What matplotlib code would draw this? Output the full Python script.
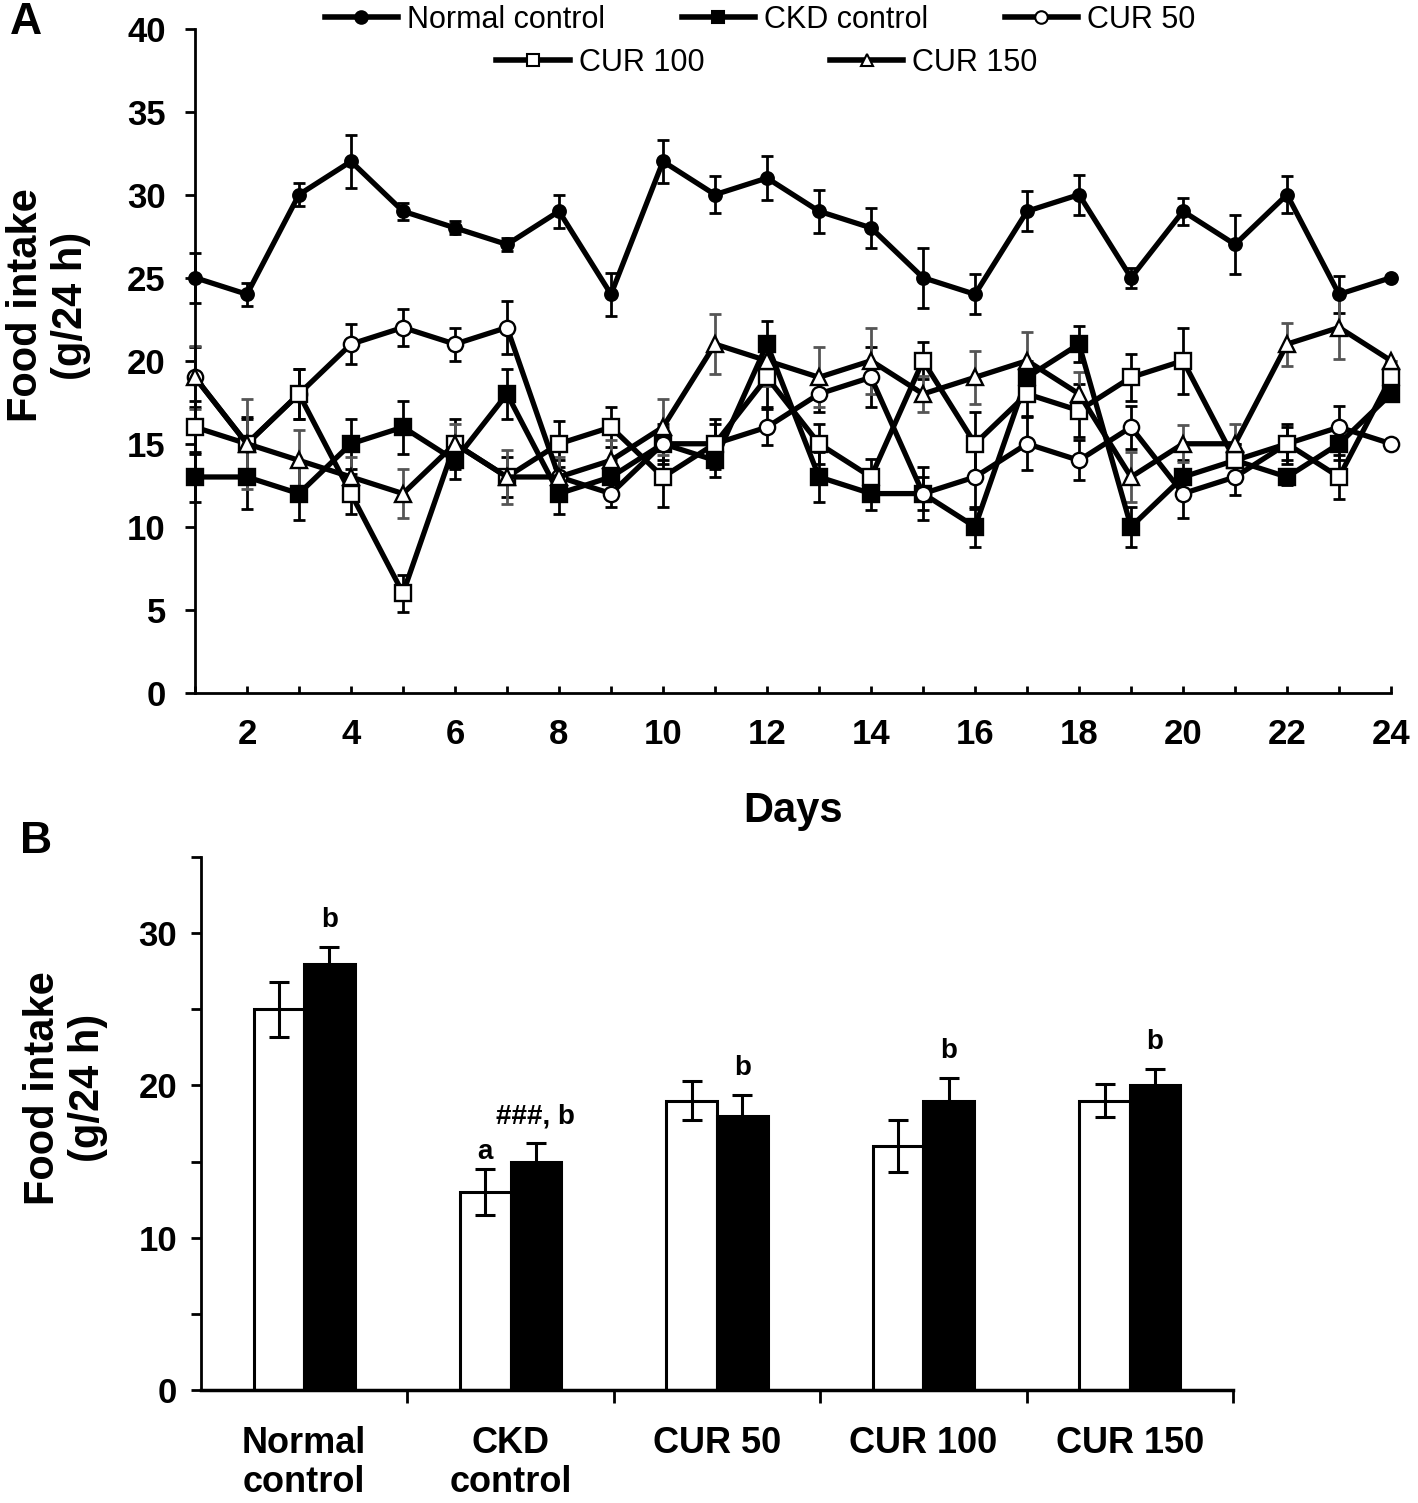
import matplotlib
matplotlib.use("Agg")
import matplotlib.pyplot as plt
from matplotlib.lines import Line2D

plt.rcParams['font.family'] = ['Liberation Sans', 'DejaVu Sans']

# ---- panel A data (daily food intake) ----
days = list(range(1, 25))
normal = [25, 24, 30, 32, 29, 28, 27, 29, 24, 32, 30, 31, 29, 28, 25, 24, 29, 30, 25, 29, 27, 30, 24, 25]
normal_err = [1.5, 0.7, 0.7, 1.6, 0.5, 0.4, 0.4, 1.0, 1.3, 1.3, 1.1, 1.3, 1.3, 1.2, 1.8, 1.2, 1.2, 1.2, 0.6, 0.8, 1.8, 1.1, 1.1, 0]
ckd = [13, 13, 12, 15, 16, 14, 18, 12, 13, 15, 14, 21, 13, 12, 12, 10, 19, 21, 10, 13, 14, 13, 15, 18]
ckd_err = [1.5, 1.9, 1.6, 1.5, 1.6, 1.1, 1.5, 1.2, 1.0, 1.2, 1.0, 1.4, 1.5, 1.0, 1.0, 1.2, 1.0, 1.1, 1.2, 1.0, 1.0, 0.5, 1.0, 0]
cur50 = [19, 15, 18, 21, 22, 21, 22, 13, 12, 15, 15, 16, 18, 19, 12, 13, 15, 14, 16, 12, 13, 15, 16, 15]
cur50_err = [1.8, 1.5, 1.5, 1.2, 1.1, 1.0, 1.6, 1.0, 0.8, 1.0, 1.2, 1.1, 1.1, 1.8, 1.6, 1.9, 1.6, 1.2, 1.3, 1.5, 1.1, 1.2, 1.3, 0]
cur100 = [16, 15, 18, 12, 6, 15, 13, 15, 16, 13, 15, 19, 15, 13, 20, 15, 18, 17, 19, 20, 14, 15, 13, 19]
cur100_err = [1.6, 1.6, 1.5, 1.2, 1.1, 1.5, 1.2, 1.4, 1.2, 1.8, 1.5, 1.8, 1.2, 1.1, 1.1, 1.9, 1.3, 1.6, 1.4, 2.0, 1.0, 1.0, 1.3, 0]
cur150 = [19, 15, 14, 13, 12, 15, 13, 13, 14, 16, 21, 20, 19, 20, 18, 19, 20, 18, 13, 15, 15, 21, 22, 20]
cur150_err = [1.9, 2.7, 1.8, 1.2, 1.5, 1.2, 1.6, 1.2, 1.2, 1.7, 1.8, 1.5, 1.8, 2.0, 1.1, 1.6, 1.7, 1.3, 1.5, 1.1, 1.2, 1.3, 1.9, 0]

# ---- panel B data (mean food intake per group) ----
groups = ["Normal\ncontrol", "CKD\ncontrol", "CUR 50", "CUR 100", "CUR 150"]
open_vals = [25, 13, 19, 16, 19]
open_err = [1.8, 1.5, 1.3, 1.7, 1.1]
filled_vals = [28, 15, 18, 19, 20]
filled_err = [1.1, 1.2, 1.4, 1.5, 1.1]
open_marks = ["", "a", "", "", ""]
filled_marks = ["b", "###, b", "b", "b", "b"]

fig = plt.figure(figsize=(14.18, 15.03), dpi=100)

# ================= panel A =================
axA = fig.add_axes([0.1375, 0.539, 0.8435, 0.442])

series = [
    ("Normal control", normal, normal_err, 'o', 'black', 9, 'black'),
    ("CKD control", ckd, ckd_err, 's', 'black', 12, 'black'),
    ("CUR 50", cur50, cur50_err, 'o', 'white', 11, 'black'),
    ("CUR 100", cur100, cur100_err, 's', 'white', 12, 'black'),
    ("CUR 150", cur150, cur150_err, '^', 'white', 12, '#555555'),
]

for name, vals, errs, mk, fc, ms, ecol in series:
    axA.errorbar(days, vals, yerr=errs, fmt='none', ecolor=ecol, elinewidth=2,
                 capsize=4, capthick=2, zorder=2, clip_on=False)
for name, vals, errs, mk, fc, ms, ecol in series:
    axA.plot(days, vals, '-', color='black', lw=3.8, marker=mk, ms=ms,
             mfc=fc, mec='black', mew=1.7, zorder=3, clip_on=False)

axA.set_xlim(1, 24)
axA.set_ylim(0, 40)
axA.set_yticks(range(0, 41, 5))
axA.set_xticks(days)
axA.set_xticklabels([str(d) if d % 2 == 0 else "" for d in days])
axA.spines['top'].set_visible(False)
axA.spines['right'].set_visible(False)
axA.spines['left'].set_linewidth(2)
axA.spines['bottom'].set_linewidth(2)
axA.tick_params(axis='y', direction='out', length=7, width=2, labelsize=25, pad=14)
axA.tick_params(axis='x', direction='in', length=5, width=2, labelsize=25, pad=18)
for lab in axA.get_xticklabels() + axA.get_yticklabels():
    lab.set_fontweight('bold')
axA.set_ylabel("Food intake\n(g/24 h)", fontsize=30, fontweight='bold', linespacing=1.15)
axA.yaxis.set_label_coords(-0.087, 0.583)
axA.set_xlabel("Days", fontsize=30, fontweight='bold', labelpad=29)

# legend in two rows
def handle(mk, fc):
    return Line2D([], [], color='black', lw=4, marker=mk, ms=9, mfc=fc, mec='black', mew=1.5)

h = [handle(s[3], s[4]) for s in series]
leg1 = fig.legend(h[:3], [s[0] for s in series[:3]], loc='center', bbox_to_anchor=(0.536, 0.987),
                  ncol=3, frameon=False, fontsize=22, handlelength=2.4, columnspacing=2.5,
                  handletextpad=0.3, borderaxespad=0)
leg2 = fig.legend(h[3:], [s[0] for s in series[3:]], loc='center', bbox_to_anchor=(0.541, 0.958),
                  ncol=2, frameon=False, fontsize=22, handlelength=2.4, columnspacing=4.1,
                  handletextpad=0.3, borderaxespad=0)

fig.text(0.007, 0.985, "A", fontsize=32, fontweight='bold', va='center', ha='left')
fig.text(0.014, 0.44, "B", fontsize=32, fontweight='bold', va='center', ha='left')

# ================= panel B =================
axB = fig.add_axes([0.1417, 0.0752, 0.7279, 0.3546])
xs = list(range(len(groups)))
w = 0.245
xo = [x - w / 2 for x in xs]
xf = [x + w / 2 for x in xs]
axB.bar(xo, open_vals, width=w, color='white', edgecolor='black', linewidth=2.2, zorder=2)
axB.bar(xf, filled_vals, width=w, color='black', edgecolor='black', linewidth=2.2, zorder=2)
axB.errorbar(xo, open_vals, yerr=open_err, fmt='none', ecolor='black', elinewidth=2.2,
             capsize=7, capthick=2.2, zorder=3)
axB.errorbar(xf, filled_vals, yerr=filled_err, fmt='none', ecolor='black', elinewidth=2.2,
             capsize=7, capthick=2.2, zorder=3)

for x, v, e, t in zip(xo, open_vals, open_err, open_marks):
    if t:
        axB.text(x, v + e + 0.3, t, ha='center', va='bottom', fontsize=20, fontweight='bold')
for x, v, e, t in zip(xf, filled_vals, filled_err, filled_marks):
    axB.text(x, v + e + 0.9, t, ha='center', va='bottom', fontsize=20, fontweight='bold')

axB.set_xlim(-0.5, 4.5)
axB.set_ylim(0, 35)
axB.set_yticks(range(0, 36, 5))
axB.set_yticklabels([str(v) if v % 10 == 0 and v <= 30 else "" for v in range(0, 36, 5)])
axB.set_xticks([x + 0.5 for x in xs])
axB.set_xticklabels([])
axB.set_xticks(xs, minor=True)
axB.set_xticklabels(groups, minor=True)
axB.tick_params(axis='x', which='major', direction='out', length=9, width=2)
axB.tick_params(axis='x', which='minor', length=0, labelsize=26, pad=26)
axB.tick_params(axis='y', direction='out', length=7, width=2, labelsize=25, pad=10)
for lab in axB.get_xticklabels(minor=True) + axB.get_yticklabels():
    lab.set_fontweight('bold')
    lab.set_linespacing(1.15)
for lab in axB.get_xticklabels(minor=True):
    lab.set_verticalalignment('top')
axB.spines['top'].set_visible(False)
axB.spines['right'].set_visible(False)
axB.spines['left'].set_linewidth(2)
axB.spines['bottom'].set_linewidth(2.5)
axB.set_ylabel("Food intake\n(g/24 h)", fontsize=30, fontweight='bold', linespacing=1.15)
axB.yaxis.set_label_coords(-0.09, 0.567)

fig.savefig("out.png", dpi=100, facecolor='white')
